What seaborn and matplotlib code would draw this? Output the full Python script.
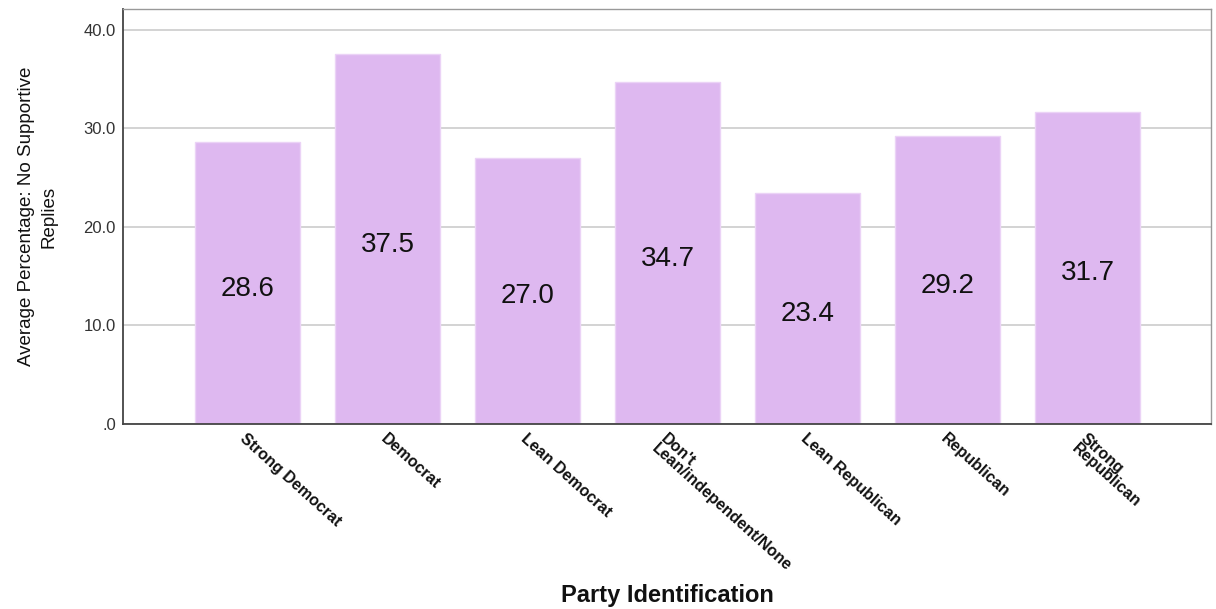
import matplotlib
matplotlib.use("Agg")
import matplotlib.pyplot as plt
import seaborn as sns
import pandas as pd

# Data
categories = ["Strong Democrat", "Democrat", "Lean Democrat",
              "Don't\nLean/independent/None", "Lean Republican",
              "Republican", "Strong\nRepublican"]
avg_pct = [28.6, 37.5, 27.0, 34.7, 23.4, 29.2, 31.7]
y_ticks = [0, 10, 20, 30, 40]
y_tick_labels = [".0", "10.0", "20.0", "30.0", "40.0"]

sns.set_style("white")
plt.rcParams['font.family'] = ['Liberation Sans', 'DejaVu Sans']
plt.rcParams['text.color'] = '#111111'
plt.rcParams['axes.labelcolor'] = '#111111'

df = pd.DataFrame({"party": categories, "pct": avg_pct})

fig = plt.figure(figsize=(12.16, 6.09), dpi=100)
ax = fig.add_axes([0.101, 0.304, 0.895, 0.681])

sns.barplot(data=df, x="party", y="pct", color="#DEB8F0", saturation=1,
            width=0.75, edgecolor="#EBD3F6", linewidth=1, ax=ax, zorder=2)

labels = ax.bar_label(ax.containers[0], fmt="%.1f", label_type="center",
                      fontsize=20, color="#111111")
for t in labels:
    t.xyann = (0, -4)

ax.set_ylim(0, 42.1)
ax.set_xlim(-0.89, 6.88)
ax.set_yticks(y_ticks)
ax.set_yticklabels(y_tick_labels, fontsize=12, color="#333333")
ax.yaxis.grid(True, color="#cccccc", linewidth=1.2, zorder=0)
ax.set_axisbelow(True)
ax.tick_params(axis="both", length=0, pad=5)

ax.set_xticks(range(len(categories)))
ax.set_xticklabels(categories, rotation=-42, ha="left", va="top",
                   rotation_mode="anchor", fontsize=11.5, fontweight="bold",
                   linespacing=0.9, color="#111111")

ax.set_xlabel("Party Identification", fontsize=17, fontweight="bold")
ax.xaxis.set_label_coords(0.5, -0.385)
ax.set_ylabel("Average Percentage: No Supportive\nReplies", fontsize=13.5,
              linespacing=1.45)
ax.yaxis.set_label_coords(-0.06, 0.5)

for side in ["left", "bottom"]:
    ax.spines[side].set_color("#444444")
    ax.spines[side].set_linewidth(1.3)
for side in ["top", "right"]:
    ax.spines[side].set_color("#999999")
    ax.spines[side].set_linewidth(1.0)

fig.savefig("out.png", dpi=100)
